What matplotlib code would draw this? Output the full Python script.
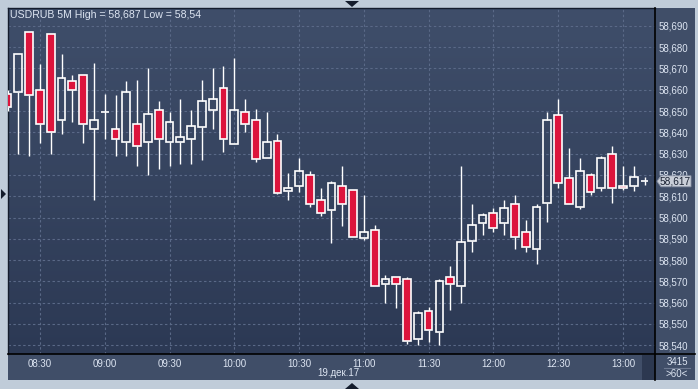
import numpy as np
import pandas as pd
import matplotlib
matplotlib.use("Agg")
import matplotlib.pyplot as plt
from matplotlib.patches import Rectangle, Polygon
from matplotlib.lines import Line2D
from matplotlib.ticker import FuncFormatter

plt.rcParams['font.family'] = ['Liberation Sans', 'DejaVu Sans']

# -----------------------------------------------------------------------
# Data: USDRUB 5-minute candles, 19 Dec 2017, 08:15 .. 13:10
# -----------------------------------------------------------------------
times = pd.date_range("2017-12-19 08:15", periods=60, freq="5min")

open_ = [58.658, 58.659, 58.687, 58.660, 58.686, 58.646, 58.664, 58.667, 58.6415, 58.6495,
         58.6415, 58.6355, 58.644, 58.6355, 58.6505, 58.6355, 58.6355, 58.637, 58.6425, 58.6505,
         58.661, 58.6345, 58.6495, 58.646, 58.628, 58.636, 58.6125, 58.615, 58.620, 58.608,
         58.6035, 58.615, 58.613, 58.5905, 58.594, 58.569, 58.572, 58.571, 58.543, 58.556,
         58.546, 58.572, 58.568, 58.589, 58.5975, 58.602, 58.5975, 58.6065, 58.593, 58.585,
         58.607, 58.648, 58.6185, 58.605, 58.620, 58.614, 58.630, 58.615, 58.615, 58.617]
high = [58.660, 58.677, 58.687, 58.672, 58.686, 58.677, 58.667, 58.667, 58.6725, 58.658,
        58.6575, 58.664, 58.6645, 58.670, 58.6545, 58.6495, 58.6555, 58.6505, 58.6645, 58.670,
        58.671, 58.675, 58.6555, 58.651, 58.6495, 58.639, 58.621, 58.628, 58.622, 58.614,
        58.617, 58.624, 58.613, 58.6105, 58.5965, 58.573, 58.572, 58.572, 58.556, 58.558,
        58.571, 58.577, 58.624, 58.6065, 58.602, 58.6045, 58.608, 58.6105, 58.599, 58.6065,
        58.6495, 58.6555, 58.6325, 58.628, 58.621, 58.629, 58.6335, 58.624, 58.624, 58.619]
low = [58.650, 58.630, 58.629, 58.635, 58.630, 58.639, 58.645, 58.635, 58.608, 58.637,
       58.629, 58.629, 58.624, 58.620, 58.623, 58.624, 58.625, 58.625, 58.627, 58.6415,
       58.631, 58.6345, 58.640, 58.626, 58.628, 58.611, 58.608, 58.612, 58.605, 58.6005,
       58.588, 58.596, 58.591, 58.5895, 58.568, 58.560, 58.5575, 58.5405, 58.540, 58.5415,
       58.540, 58.5565, 58.560, 58.584, 58.592, 58.593, 58.592, 58.585, 58.584, 58.578,
       58.598, 58.614, 58.6065, 58.604, 58.6105, 58.6125, 58.607, 58.613, 58.6125, 58.6155]
close = [58.652, 58.677, 58.6575, 58.644, 58.640, 58.6655, 58.660, 58.644, 58.646, 58.6495,
         58.637, 58.659, 58.6335, 58.6485, 58.637, 58.645, 58.638, 58.643, 58.6545, 58.6555,
         58.637, 58.6505, 58.644, 58.6275, 58.6355, 58.6115, 58.614, 58.622, 58.6065, 58.602,
         58.616, 58.6065, 58.591, 58.593, 58.568, 58.571, 58.569, 58.542, 58.555, 58.547,
         58.570, 58.569, 58.5885, 58.5965, 58.601, 58.595, 58.6045, 58.591, 58.586, 58.605,
         58.646, 58.616, 58.6065, 58.622, 58.612, 58.628, 58.614, 58.614, 58.619, 58.617]

time_ticks = ["08:30", "09:00", "09:30", "10:00", "10:30", "11:00",
              "11:30", "12:00", "12:30", "13:00"]
price_ticks = [58.540, 58.550, 58.560, 58.570, 58.580, 58.590, 58.600, 58.610,
               58.620, 58.630, 58.640, 58.650, 58.660, 58.670, 58.680, 58.690]
last_price = 58.617
title = "USDRUB 5M High = 58,687 Low = 58,54"
date_label = "19.дек.17"

# -----------------------------------------------------------------------
# Colours / layout (pixel based, 698x389 canvas)
# -----------------------------------------------------------------------
W, H = 698, 389
FRAME = "#c0ccd9"
PANEL = "#404e68"
TOP_BG = "#3f4e6a"
BOT_BG = "#2c3954"
GRID = "#5a6987"
TEXT = "#dde5f2"
RED = "#dc143c"
DARK = "#141c2c"


def fx(px):
    return px / W


def fy(py):
    return 1 - py / H


fig = plt.figure(figsize=(W / 100, H / 100), dpi=100, facecolor=FRAME)

# panels behind the axes
fig.add_artist(Rectangle((fx(8), fy(380)), fx(695) - fx(8), fy(8) - fy(380),
                         transform=fig.transFigure, facecolor=PANEL,
                         edgecolor="none", zorder=-2))

ax = fig.add_axes([fx(8), fy(354), fx(655) - fx(8), fy(8) - fy(354)])

x = np.arange(len(times))
o = np.array(open_)
h = np.array(high)
l = np.array(low)
c = np.array(close)

ax.set_xlim(0.04, 59.97)
ax.set_ylim(58.5359, 58.6984)

# background gradient
grad = np.linspace(0, 1, 256).reshape(-1, 1)
top_rgb = np.array(matplotlib.colors.to_rgb(TOP_BG))
bot_rgb = np.array(matplotlib.colors.to_rgb(BOT_BG))
img = top_rgb[None, None, :] * (1 - grad[:, :, None]) + bot_rgb[None, None, :] * grad[:, :, None]
ax.imshow(img, extent=[0, 1, 0, 1], transform=ax.transAxes, aspect="auto", zorder=0)

# grid
tick_pos = [i for i, t in enumerate(times) if t.strftime("%H:%M") in time_ticks]
ax.set_xticks(tick_pos, time_ticks)
ax.set_yticks(price_ticks)
ax.set_axisbelow(True)
ax.grid(True, color=GRID, linestyle=(0, (2.2, 2.2)), linewidth=0.8)

# candles
body_hi = np.maximum(o, c)
body_lo = np.minimum(o, c)
ax.vlines(x, body_hi, h, color="white", linewidth=1.0, zorder=3)
ax.vlines(x, l, body_lo, color="white", linewidth=1.0, zorder=3)

width = 0.72
up = c > o
down = c < o
flat = c == o
ax.bar(x[up], (c - o)[up], bottom=o[up], width=width, facecolor="none",
       edgecolor="white", linewidth=1.2, zorder=4)
ax.bar(x[down], (o - c)[down], bottom=c[down], width=width, facecolor=RED,
       edgecolor="white", linewidth=1.2, zorder=4)
ax.hlines(c[flat], x[flat] - width / 2, x[flat] + width / 2, color="white",
          linewidth=1.2, zorder=4)

# axes styling
ax.yaxis.tick_right()
ax.yaxis.set_major_formatter(FuncFormatter(lambda v, p: f"{v:.3f}".replace(".", ",")))
ax.tick_params(axis="y", length=0, pad=2.2, labelsize=7, labelcolor=TEXT)
ax.tick_params(axis="x", length=0, pad=3.5, labelsize=7, labelcolor=TEXT)
for side in ["top", "left"]:
    ax.spines[side].set_color(DARK)
    ax.spines[side].set_linewidth(1.0)
for side in ["right", "bottom"]:
    ax.spines[side].set_visible(False)

ax.text(fx(2) / (fx(655) - fx(8)), 1 - 7 / 346, title, transform=ax.transAxes,
        fontsize=7.6, color=TEXT, va="center", ha="left", zorder=6)

# separators
fig.add_artist(Line2D([fx(655), fx(655)], [fy(8), fy(380)], color="black", linewidth=1.2))
fig.add_artist(Line2D([fx(8), fx(695)], [fy(354), fy(354)], color="black", linewidth=1.2))

# date + corner info
fig.text(fx(338), fy(373), date_label, fontsize=7, color=TEXT, ha="center", va="center")
fig.add_artist(Rectangle((fx(642), fy(380)), fx(655) - fx(642), fy(355) - fy(380),
                         transform=fig.transFigure, facecolor="#2c3850", edgecolor="none"))
fig.text(fx(677), fy(362), "3415", fontsize=7, color=TEXT, ha="center", va="center")
fig.add_artist(Line2D([fx(664), fx(690)], [fy(368), fy(368)], color="#6c7890", linewidth=0.8))
fig.text(fx(677), fy(374), ">60<", fontsize=7, color=TEXT, ha="center", va="center")

# last price marker on the right axis
ypx = 345.3 - (last_price - 58.540) / 0.010 * 21.3
box = [(fx(657), fy(ypx)), (fx(661), fy(ypx - 5.5)), (fx(691), fy(ypx - 5.5)),
       (fx(691), fy(ypx + 5.5)), (fx(661), fy(ypx + 5.5))]
fig.add_artist(Polygon(box, closed=True, transform=fig.transFigure,
                       facecolor="#c9ced8", edgecolor="#8a93a6", linewidth=0.6))
fig.text(fx(660), fy(ypx), f"{last_price:.3f}".replace(".", ","), fontsize=7.3,
         color="#1a2233", ha="left", va="center")

# frame arrows
fig.add_artist(Polygon([(fx(345), fy(1)), (fx(359), fy(1)), (fx(352), fy(7))],
                       transform=fig.transFigure, facecolor=DARK, edgecolor="none"))
fig.add_artist(Polygon([(fx(345), fy(389)), (fx(359), fy(389)), (fx(352), fy(383))],
                       transform=fig.transFigure, facecolor=DARK, edgecolor="none"))
fig.add_artist(Polygon([(fx(1), fy(189)), (fx(1), fy(199)), (fx(6), fy(194))],
                       transform=fig.transFigure, facecolor=DARK, edgecolor="none"))

fig.savefig("out.png", dpi=100, facecolor=FRAME)
